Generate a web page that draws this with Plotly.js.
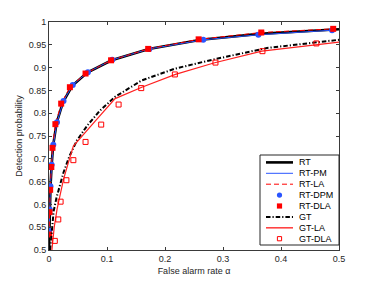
<!DOCTYPE html>
<html><head><meta charset="utf-8">
<script src="https://cdn.plot.ly/plotly-3.0.1.min.js"></script>
<style>html,body{margin:0;padding:0;background:#fff}</style>
</head><body><div id="chart" style="width:374px;height:281px"></div>
<script>
// ---- data ----
const rtX = [0, 0.0004, 0.0012, 0.0025, 0.0045, 0.007, 0.013, 0.024, 0.04, 0.066, 0.108, 0.172, 0.262, 0.363, 0.5];
const rtY = [0.5, 0.54, 0.588, 0.637, 0.685, 0.728, 0.778, 0.824, 0.86, 0.889, 0.916, 0.941, 0.961, 0.974, 0.984];

const dpmX = [0.0004, 0.0012, 0.0025, 0.0045, 0.0074, 0.0138, 0.025, 0.041, 0.067, 0.109, 0.173, 0.266, 0.361, 0.488];
const dpmY = [0.543, 0.589, 0.640, 0.687, 0.731, 0.780, 0.827, 0.862, 0.890, 0.917, 0.941, 0.961, 0.972, 0.982];

const dlaX = [0.0003, 0.001, 0.002, 0.004, 0.006, 0.011, 0.021, 0.036, 0.063, 0.107, 0.171, 0.258, 0.366, 0.490];
const dlaY = [0.534, 0.583, 0.632, 0.682, 0.724, 0.776, 0.821, 0.857, 0.887, 0.916, 0.941, 0.962, 0.977, 0.985];

const gtX = [0.002, 0.005, 0.008, 0.013, 0.018, 0.025, 0.035, 0.048, 0.066, 0.088, 0.114, 0.16, 0.218, 0.284, 0.376, 0.5];
const gtY = [0.5, 0.55, 0.585, 0.615, 0.64, 0.67, 0.705, 0.74, 0.773, 0.806, 0.836, 0.872, 0.898, 0.918, 0.943, 0.961];

const gtlaX = [0.005, 0.009, 0.014, 0.019, 0.025, 0.033, 0.042, 0.08, 0.114, 0.16, 0.218, 0.284, 0.367, 0.5];
const gtlaY = [0.5, 0.55, 0.59, 0.62, 0.655, 0.69, 0.728, 0.783, 0.832, 0.857, 0.885, 0.910, 0.936, 0.956];

const gtdlaX = [0.010, 0.016, 0.020, 0.030, 0.042, 0.063, 0.090, 0.120, 0.159, 0.217, 0.287, 0.368, 0.461];
const gtdlaY = [0.520, 0.567, 0.606, 0.653, 0.697, 0.737, 0.775, 0.819, 0.855, 0.885, 0.911, 0.936, 0.953];

const xTickVals = [0, 0.1, 0.2, 0.3, 0.4, 0.5];
const xTickText = ['0', '0.1', '0.2', '0.3', '0.4', '0.5'];
const yTickVals = [0.5, 0.55, 0.6, 0.65, 0.7, 0.75, 0.8, 0.85, 0.9, 0.95, 1];
const yTickText = ['0.5', '0.55', '0.6', '0.65', '0.7', '0.75', '0.8', '0.85', '0.9', '0.95', '1'];

const legendNames = ['RT', 'RT-PM', 'RT-LA', 'RT-DPM', 'RT-DLA', 'GT', 'GT-LA', 'GT-DLA'];
const xTitle = 'False alarm rate α';
const yTitle = 'Detection probability';

// ---- styles ----
const BLUE = '#2a55ff', RED = '#ff0000', RED2 = '#ff2020';
const GTDASH = '4.5px,2px,1.2px,2px';
const LADASH = '5px,3px';
const FONT = 'Liberation Sans, Arial, Helvetica, sans-serif';

const traces = [
  {x: rtX, y: rtY, mode: 'lines', line: {color: '#000', width: 2.6}},
  {x: dpmX, y: dpmY, mode: 'lines', line: {color: BLUE, width: 1}},
  {x: dlaX, y: dlaY, mode: 'lines', line: {color: RED, width: 1, dash: LADASH}},
  {x: dpmX, y: dpmY, mode: 'markers', marker: {symbol: 'circle', size: 6, color: BLUE}},
  {x: dlaX, y: dlaY, mode: 'markers', marker: {symbol: 'square', size: 6, color: RED}},
  {x: gtX, y: gtY, mode: 'lines', line: {color: '#000', width: 2, dash: GTDASH}},
  {x: gtlaX, y: gtlaY, mode: 'lines', line: {color: RED2, width: 1.2}},
  {x: gtdlaX, y: gtdlaY, mode: 'markers', marker: {symbol: 'square-open', size: 5, color: RED, line: {width: 1, color: RED}}}
].map((t, i) => Object.assign({type: 'scatter', name: legendNames[i], showlegend: false, hoverinfo: 'skip'}, t));

// ---- custom compact legend (MATLAB-like) ----
const M = {l: 49, r: 35, t: 22, b: 31};
const W = 374, H = 281;
const pw = W - M.l - M.r, ph = H - M.t - M.b;
const fx = px => (px - M.l) / pw;
const fy = py => (H - M.b - py) / ph;

const boxL = 260, boxR = 339, boxT = 155, boxB = 245;
const row0 = 162.4, rowStep = 10.9;
const sampL = 266, sampR = 293, sampC = 279.5, textX = 296.5;

const shapes = [{
  type: 'rect', xref: 'paper', yref: 'paper',
  x0: fx(boxL), x1: fx(boxR), y0: fy(boxB), y1: fy(boxT),
  line: {color: '#262626', width: 1}, fillcolor: '#fff', layer: 'above'
}];
const annotations = [];

const legendStyle = [
  {kind: 'line', color: '#000', width: 2.6},
  {kind: 'line', color: BLUE, width: 1},
  {kind: 'line', color: RED, width: 1, dash: LADASH},
  {kind: 'circle', color: BLUE, r: 2.6},
  {kind: 'square', color: RED, r: 2.6},
  {kind: 'line', color: '#000', width: 2, dash: GTDASH},
  {kind: 'line', color: '#ff4444', width: 1.6},
  {kind: 'osquare', color: RED, r: 2.1}
];

legendStyle.forEach((s, i) => {
  const cy = row0 + i * rowStep;
  if (s.kind === 'line') {
    shapes.push({type: 'line', xref: 'paper', yref: 'paper',
      x0: fx(sampL), x1: fx(sampR), y0: fy(cy), y1: fy(cy),
      line: {color: s.color, width: s.width, dash: s.dash || 'solid'}, layer: 'above'});
  } else {
    shapes.push({type: s.kind === 'circle' ? 'circle' : 'rect', xref: 'paper', yref: 'paper',
      x0: fx(sampC - s.r), x1: fx(sampC + s.r), y0: fy(cy + s.r), y1: fy(cy - s.r),
      line: {color: s.color, width: s.kind === 'osquare' ? 1 : 0},
      fillcolor: s.kind === 'osquare' ? 'rgba(0,0,0,0)' : s.color, layer: 'above'});
  }
  annotations.push({xref: 'paper', yref: 'paper', x: fx(textX), y: fy(cy),
    xanchor: 'left', yanchor: 'middle', showarrow: false, text: legendNames[i],
    font: {family: FONT, size: 9, color: '#000'}});
});

const axisCommon = {
  showgrid: false, zeroline: false, showline: true, mirror: 'ticks',
  ticks: 'inside', ticklen: 3, tickwidth: 1, tickcolor: '#3a3a3a', linecolor: '#3a3a3a', linewidth: 1,
  tickfont: {family: FONT, size: 9, color: '#262626'}, tickmode: 'array', fixedrange: true
};

const layout = {
  width: W, height: H, margin: M,
  paper_bgcolor: '#fff', plot_bgcolor: '#fff', showlegend: false,
  font: {family: FONT, size: 9, color: '#262626'},
  xaxis: Object.assign({}, axisCommon, {range: [0, 0.5], tickvals: xTickVals, ticktext: xTickText,
    title: {text: xTitle, font: {family: FONT, size: 9, color: '#262626'}, standoff: 4}}),
  yaxis: Object.assign({}, axisCommon, {range: [0.5, 1], tickvals: yTickVals, ticktext: yTickText,
    title: {text: yTitle, font: {family: FONT, size: 9, color: '#262626'}, standoff: 4}}),
  shapes: shapes, annotations: annotations
};

Plotly.newPlot('chart', traces, layout, {staticPlot: true, displayModeBar: false});
</script></body></html>
